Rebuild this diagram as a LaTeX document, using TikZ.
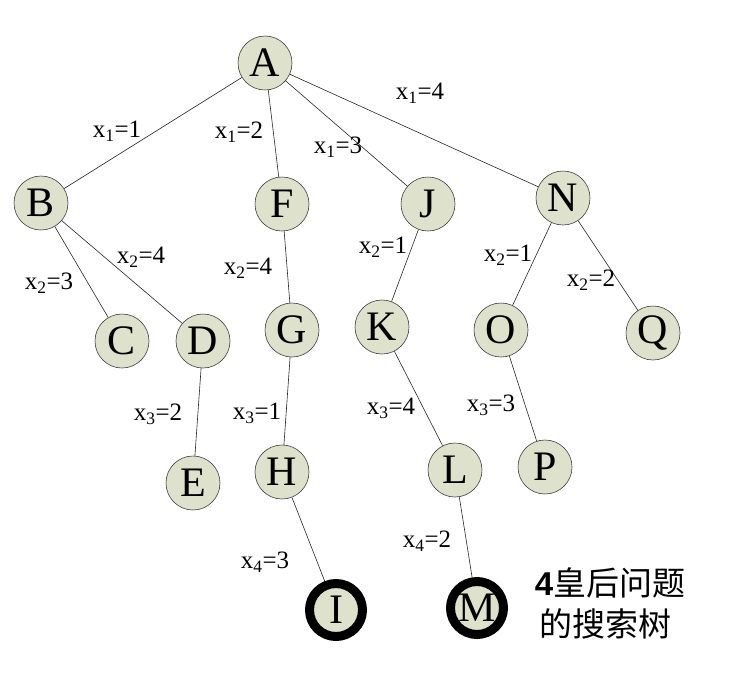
\documentclass[tikz,border=0pt]{standalone}
\usepackage{fontspec}
\setmainfont{Liberation Serif}
\newfontfamily\cjk{Noto Sans CJK SC}
\newfontfamily\sansb{Liberation Sans}
\definecolor{nodefill}{HTML}{DEE1CC}
\definecolor{nodeline}{HTML}{404040}
\begin{document}
\begin{tikzpicture}[x=1pt,y=-1pt,
  tnode/.style={circle,draw=nodeline,line width=0.6pt,fill=nodefill,minimum size=54pt,inner sep=0pt,font=\fontsize{42}{42}\selectfont},
  goal/.style={tnode,draw=black,line width=9pt,minimum size=53pt},
  edge/.style={draw=black!85,line width=0.6pt},
  lab/.style={font=\fontsize{25}{25}\selectfont,inner sep=0pt}]
\useasboundingbox (0,0) rectangle (734,678);
\node[tnode] (A) at (265,63) {A};
\node[tnode] (B) at (41,203) {B};
\node[tnode] (F) at (282,204) {F};
\node[tnode] (J) at (428,204) {J};
\node[tnode] (N) at (563,198) {N};
\node[tnode] (C) at (122,341) {C};
\node[tnode] (D) at (203,341) {D};
\node[tnode] (G) at (292,330) {G};
\node[tnode] (K) at (382,327) {K};
\node[tnode] (O) at (501,330) {O};
\node[tnode] (Q) at (653,333) {Q};
\node[tnode] (E) at (193,483) {E};
\node[tnode] (H) at (282,472) {H};
\node[tnode] (L) at (455,470) {L};
\node[tnode] (P) at (545,467) {P};
\node[goal] (I) at (336,610) {I};
\node[goal] (M) at (477,608) {M};
\foreach \a/\b in {A/B,A/F,A/J,A/N,B/C,B/D,D/E,F/G,G/H,H/I,J/K,K/L,L/M,N/O,N/Q,O/P}
  \draw[edge] (\a) -- (\b);
\node[lab] (l1) at (117,131) {x\textsubscript{1}=1};
\node[lab] (l2) at (239,132) {x\textsubscript{1}=2};
\node[lab] (l3) at (338,147) {x\textsubscript{1}=3};
\node[lab] (l4) at (420,93) {x\textsubscript{1}=4};
\node[lab] (l5) at (49,283) {x\textsubscript{2}=3};
\node[lab] (l6) at (141,257) {x\textsubscript{2}=4};
\node[lab] (l7) at (248,268) {x\textsubscript{2}=4};
\node[lab] (l8) at (383,247) {x\textsubscript{2}=1};
\node[lab] (l9) at (508,255) {x\textsubscript{2}=1};
\node[lab] (l10) at (591,280) {x\textsubscript{2}=2};
\node[lab] (l11) at (158,414) {x\textsubscript{3}=2};
\node[lab] (l12) at (257,413) {x\textsubscript{3}=1};
\node[lab] (l13) at (391,408) {x\textsubscript{3}=4};
\node[lab] (l14) at (491,405) {x\textsubscript{3}=3};
\node[lab] (l15) at (265,562) {x\textsubscript{4}=3};
\node[lab] (l16) at (427,541) {x\textsubscript{4}=2};
\node[inner sep=0pt,font=\fontsize{33}{33}\selectfont] (t1) at (610,583) {{\sansb\bfseries 4}{\cjk 皇后问题}};
\node[inner sep=0pt,font=\fontsize{33}{33}\selectfont\cjk] (t2) at (605,624) {的搜索树};
\end{tikzpicture}
\end{document}
